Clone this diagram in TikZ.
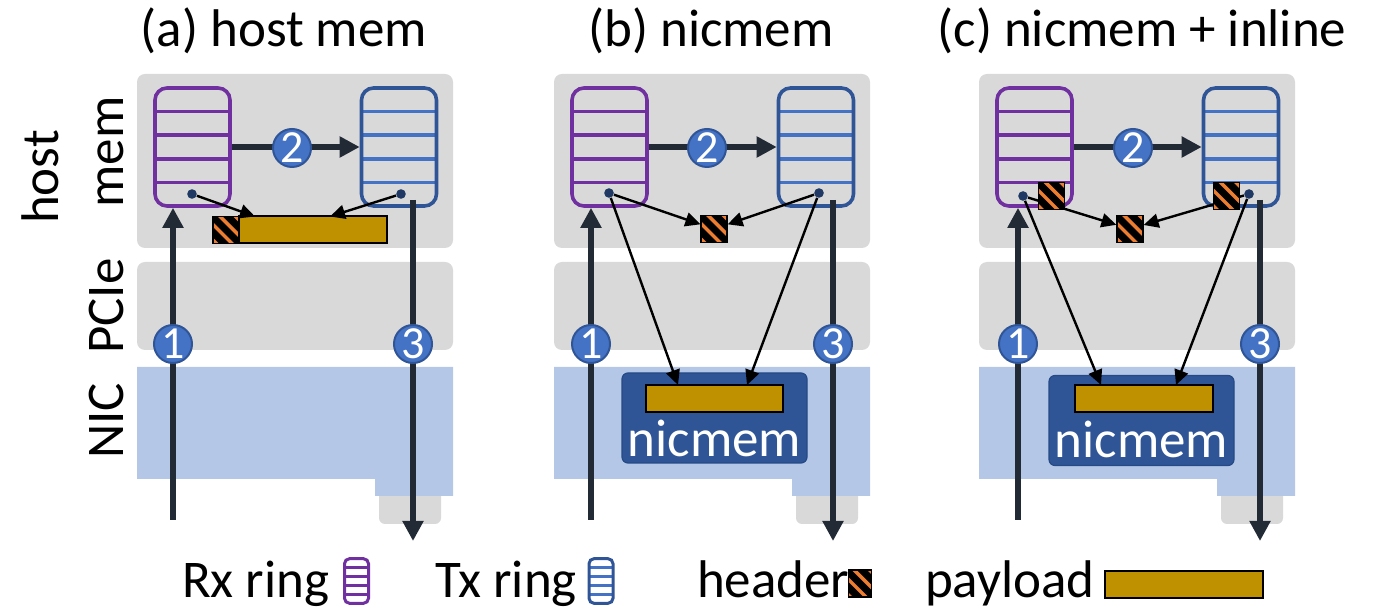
\documentclass[tikz,border=0pt]{standalone}
\usepackage{fontspec}
\setmainfont{Carlito}
\usetikzlibrary{arrows.meta,calc}

\definecolor{boxgray}{HTML}{D9D9D9}
\definecolor{nicblue}{HTML}{B4C7E7}
\definecolor{nicmemfill}{HTML}{2F5597}
\definecolor{nicmemedge}{HTML}{264A86}
\definecolor{payloadgold}{HTML}{BF9000}
\definecolor{hdrorange}{HTML}{ED7D31}
\definecolor{rxpurple}{HTML}{7030A0}
\definecolor{txedge}{HTML}{2F5597}
\definecolor{txline}{HTML}{4472C4}
\definecolor{stepfill}{HTML}{4472C4}
\definecolor{stepedge}{HTML}{2F5597}
\definecolor{flowdark}{HTML}{222A35}
\definecolor{dotblue}{HTML}{1F3864}

% horizontal slot lines of a descriptor ring
\newcommand\ringlines[2]{%
  \foreach \k in {1,2,3,4}{%
    \draw[#1,line width=#2]
      ($(path picture bounding box.north west)!\k/5!(path picture bounding box.south west)$) --
      ($(path picture bounding box.north east)!\k/5!(path picture bounding box.south east)$);}}

\tikzset{
  every node/.style={font=\fontsize{26.5}{31}\selectfont},
  ringbox/.style={line width=1.8pt, rounded corners=6pt, inner sep=0pt,
    minimum width=37.5pt, minimum height=59pt},
  rxring/.style={ringbox, draw=rxpurple, path picture={\ringlines{rxpurple}{1.8pt}}},
  txring/.style={ringbox, draw=txedge, path picture={\ringlines{txline}{1.8pt}}},
  iconbox/.style={line width=1.5pt, rounded corners=2.5pt, inner sep=0pt,
    minimum width=12pt, minimum height=22.3pt},
  rxicon/.style={iconbox, draw=rxpurple, path picture={\ringlines{rxpurple}{1.5pt}}},
  txicon/.style={iconbox, draw=txedge, path picture={\ringlines{txline}{1.5pt}}},
  hdr/.style={draw=black, fill=black, line width=0.6pt, inner sep=0pt,
    minimum width=13pt, minimum height=13.5pt,
    path picture={\foreach \d in {-11.5,-3.8,3.8,11.5}{%
      \draw[hdrorange, line width=1.7pt]
        ([shift={({\d*0.5pt-10pt},{\d*0.5pt+10pt})}]path picture bounding box.center)
        -- ++(20pt,-20pt);}}},
  payload/.style={draw=black, fill=payloadgold, line width=1pt, inner sep=0pt,
    minimum height=13.5pt},
  nicmembox/.style={fill=nicmemfill, draw=nicmemedge, line width=0.6pt,
    rounded corners=3pt, inner sep=0pt, minimum width=92.5pt, minimum height=45pt},
  dot/.style={circle, fill=dotblue, inner sep=0pt, minimum size=4.8pt},
  numdisc/.style={circle, fill=stepfill, draw=stepedge, line width=1pt,
    minimum size=19pt, inner sep=0pt, text=white, font=\fontsize{23}{23}\selectfont},
  flow/.style={draw=flowdark, line width=3pt, -{Triangle[length=10pt,width=10pt]}},
  thinarrow/.style={draw=black, line width=1.2pt, -{Triangle[length=7.5pt,width=7pt]}},
  sidelabel/.style={rotate=90, anchor=base},
}

% memory, PCIe and NIC backdrop of one panel with the rings and the three steps
% #1 name prefix, #2 x of step 1, #3 x of step 3, #4 x of step 2 disc
\newcommand\panelbase[4]{%
  \fill[boxgray, rounded corners=4pt] (137,74) rectangle (453,248);
  \fill[boxgray, rounded corners=4pt] (137,262) rectangle (453,350);
  \fill[boxgray, rounded corners=3pt] (379,470) rectangle (441,524);
  \fill[nicblue] (137,367) -- (453,367) -- (453,496) -- (375,496) -- (375,479) -- (137,479) -- cycle;
  \node[rxring] (#1rx) at (192.5,147) {};
  \node[txring] (#1tx) at (399,147) {};
  \coordinate (#1in) at (#2,520);
  \coordinate (#1outtop) at (#3,200);
  \coordinate (#1out) at (#3,541);
  \draw[flow] (#1in) -- (#1in |- #1rx.south);
  \draw[flow] (#1rx.east) -- (#1tx.west);
  \draw[flow] (#1outtop) -- (#1out);
  \node[numdisc] (#1s1) at (#2,344) {1};
  \node[numdisc] (#1s2) at (#4,148) {2};
  \node[numdisc] (#1s3) at (#3,344) {3};
}

\begin{document}
\begin{tikzpicture}[x=0.5pt,y=-0.5pt]
\useasboundingbox (0,0) rectangle (1375,608);

% titles
\node[anchor=base] (ta) at (284,47) {(a) host mem};
\node[anchor=base] (tb) at (711,47) {(b) nicmem};
\node[anchor=base] (tc) at (1142,47) {(c) nicmem + inline};

% layer labels
\node[sidelabel] (lhost) at (58,177) {host};
\node[sidelabel] (lmem) at (123,152) {mem};
\node[sidelabel] (lpcie) at (123,306) {PCIe};
\node[sidelabel] (lnic) at (123,421) {NIC};

% (a) payload and header in host memory
\begin{scope}
  \panelbase{a}{173}{413}{292}
  \node[dot] (a-rxd) at (192,194) {};
  \node[dot] (a-txd) at (401,194) {};
  \node[payload, minimum width=74pt] (a-p) at (313,230) {};
  \node[hdr] (a-h) at (226,230) {};
  \coordinate (a-pl) at (255,216.5);
  \coordinate (a-pr) at (330,216.5);
  \draw[thinarrow] (a-rxd) -- (a-pl);
  \draw[thinarrow] (a-txd) -- (a-pr);
\end{scope}

% (b) header in host memory, payload in nicmem
\begin{scope}[shift={(417,0)}]
  \panelbase{b}{174}{416}{290}
  \node[dot] (b-rxd) at (192,193) {};
  \node[dot] (b-txd) at (402,193) {};
  \node[hdr] (b-h) at (297,229) {};
  \node[nicmembox] (b-nm) at (297.5,418) {};
  \node[payload, minimum width=68.5pt] (b-p) at (297.5,398.5) {};
  \node[anchor=base, text=white] (b-nt) at (297.5,457) {nicmem};
  \coordinate (b-pl) at (261,385);
  \coordinate (b-pr) at (330,385);
  \draw[thinarrow] (b-rxd) -- (b-h);
  \draw[thinarrow] (b-txd) -- (b-h);
  \draw[thinarrow] (b-rxd) -- (b-pl);
  \draw[thinarrow] (b-txd) -- (b-pr);
\end{scope}

% (c) headers inlined in the rings, payload in nicmem
\begin{scope}[shift={(842,0)}]
  \panelbase{c}{176}{418}{291}
  \node[dot] (c-rxd) at (181,196) {};
  \node[dot] (c-txd) at (407,194) {};
  \node[hdr] (c-h) at (288,229) {};
  \node[nicmembox] (c-nm) at (299.5,420.5) {};
  \node[payload, minimum width=69pt] (c-p) at (302,398.5) {};
  \node[anchor=base, text=white] (c-nt) at (299.5,458) {nicmem};
  \coordinate (c-pl) at (259,385);
  \coordinate (c-pr) at (334,385);
  \draw[thinarrow] (c-rxd) -- (c-h);
  \draw[thinarrow] (c-txd) -- (c-h);
  \draw[thinarrow] (c-rxd) -- (c-pl);
  \draw[thinarrow] (c-txd) -- (c-pr);
  \node[hdr] (c-hr) at (209.5,196) {};
  \node[hdr] (c-ht) at (384.5,196) {};
\end{scope}

% legend
\node[anchor=base west] (kr) at (175,597) {Rx ring};
\node[rxicon] (kri) at (356.5,581) {};
\node[anchor=base west] (kt) at (428,597) {Tx ring};
\node[txicon] (kti) at (601,581) {};
\node[anchor=base west] (kh) at (690,597) {header};
\node[hdr, minimum width=11.5pt] (khi) at (860,583.5) {};
\node[anchor=base west] (kp) at (918,597) {payload};
\node[payload, minimum width=79pt] (kpi) at (1184,584.5) {};
\end{tikzpicture}
\end{document}
